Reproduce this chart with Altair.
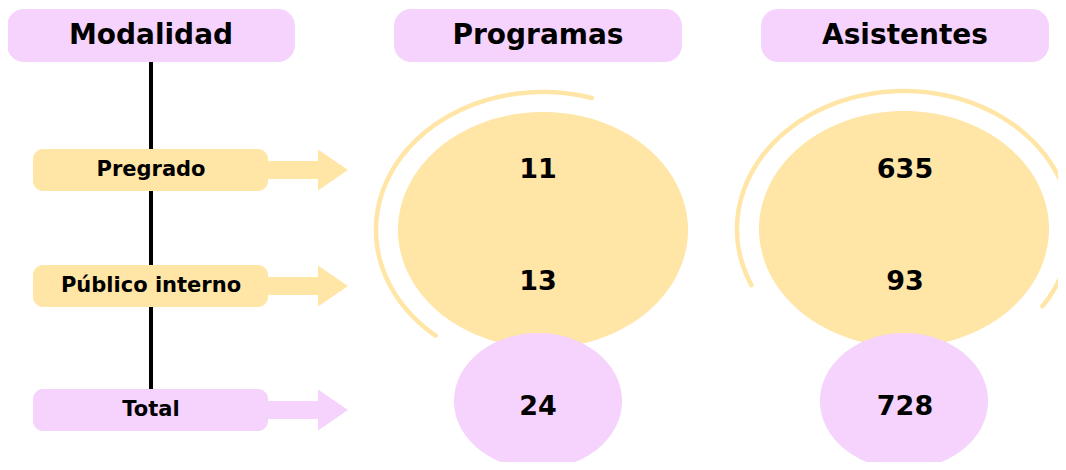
import altair as alt
import pandas as pd
import numpy as np

# ---- data ----
headers = ["Modalidad", "Programas", "Asistentes"]
modalidades = ["Pregrado", "Público interno", "Total"]
programas = [11, 13, 24]
asistentes = [635, 93, 728]

# ---- style / layout constants ----
YELLOW = "#FFE5A6"
PINK = "#F5D3FC"
FONT = "DejaVu Sans"
COL_X = [151, 538, 905]          # column centres
HEADER_Y = (9, 62)
HEADER_HALF = 144
ROW_Y = [170, 286, 410]          # row-label centres
ROW_BOX = (33, 268)
ROW_HALF = 21
VALUE_Y = [170, 282, 407]
BIG_CENTER = [(543, 230), (904, 229)]
BIG_R = (145, 118)
SMALL_CENTER = [(538, 401), (904, 401)]
SMALL_R = (84, 68)
ARC_R = (167, 138)
ARC_SPAN = [(-73, -230), (156, 394)]

xs = alt.Scale(domain=[8, 1058], nice=False, zero=False)
ys = alt.Scale(domain=[8, 462], nice=False, zero=False, reverse=True)


def X(f):
    return alt.X(f, type="quantitative", scale=xs, axis=None)


def Y(f):
    return alt.Y(f, type="quantitative", scale=ys, axis=None)


def sym_path(ratio, t0, t1, n, closed):
    t = np.radians(np.linspace(t0, t1, n))
    pts = [f"{np.cos(a):.4f},{ratio * np.sin(a):.4f}" for a in t]
    s = "M" + " L".join(pts)
    if closed:
        s += " Z"
    return s


# vertical line
line_df = pd.DataFrame({"x": [COL_X[0]], "y": [HEADER_Y[1]], "y2": [ROW_Y[2] - ROW_HALF]})
vline = alt.Chart(line_df).mark_rule(color="black", strokeWidth=4).encode(
    x=X("x"), y=Y("y"), y2="y2")

# row labels, boxes and arrows
row_df = pd.DataFrame({
    "label": modalidades,
    "x": [ROW_BOX[0]] * 3, "x2": [ROW_BOX[1]] * 3,
    "xc": [COL_X[0]] * 3,
    "ax": [308] * 3,
    "y": [r - ROW_HALF for r in ROW_Y], "y2": [r + ROW_HALF for r in ROW_Y],
    "yc": ROW_Y,
    "color": [YELLOW, YELLOW, PINK],
})
arrow_path = "M-1.05,-0.225 L0.25,-0.225 L0.25,-0.5125 L1,0 L0.25,0.5125 L0.25,0.225 L-1.05,0.225 Z"
arrows = alt.Chart(row_df).mark_point(shape=arrow_path, filled=True, opacity=1, size=6400, strokeWidth=0).encode(
    x=X("ax"), y=Y("yc"), color=alt.Color("color:N", scale=None))
row_boxes = alt.Chart(row_df).mark_rect(cornerRadius=10).encode(
    x=X("x"), x2="x2", y=Y("y"), y2="y2", color=alt.Color("color:N", scale=None))
row_text = alt.Chart(row_df).mark_text(font=FONT, fontWeight="bold", fontSize=21, baseline="middle",
                                       align="center", color="black").encode(
    x=X("xc"), y=Y("yc"), text="label:N")

# headers
head_df = pd.DataFrame({
    "label": headers,
    "xc": COL_X,
    "x": [c - HEADER_HALF for c in COL_X], "x2": [c + HEADER_HALF for c in COL_X],
    "y": [HEADER_Y[0]] * 3, "y2": [HEADER_Y[1]] * 3,
    "yc": [(HEADER_Y[0] + HEADER_Y[1]) / 2 + 0.5] * 3,
})
head_boxes = alt.Chart(head_df).mark_rect(cornerRadius=17, color=PINK).encode(
    x=X("x"), x2="x2", y=Y("y"), y2="y2")
head_text = alt.Chart(head_df).mark_text(font=FONT, fontWeight="bold", fontSize=28, baseline="middle",
                                         align="center", color="black").encode(
    x=X("xc"), y=Y("yc"), text="label:N")

# ellipses
big_df = pd.DataFrame({"x": [c[0] for c in BIG_CENTER], "y": [c[1] for c in BIG_CENTER]})
big = alt.Chart(big_df).mark_point(shape=sym_path(BIG_R[1] / BIG_R[0], 0, 360, 181, True), filled=True,
                                   opacity=1, color=YELLOW, size=(2 * BIG_R[0]) ** 2, strokeWidth=0).encode(
    x=X("x"), y=Y("y"))
small_df = pd.DataFrame({"x": [c[0] for c in SMALL_CENTER], "y": [c[1] for c in SMALL_CENTER]})
small = alt.Chart(small_df).mark_point(shape=sym_path(SMALL_R[1] / SMALL_R[0], 0, 360, 181, True), filled=True,
                                       opacity=1, color=PINK, size=(2 * SMALL_R[0]) ** 2, strokeWidth=0).encode(
    x=X("x"), y=Y("y"))

arcs = []
for (cx, cy), (t0, t1) in zip(BIG_CENTER, ARC_SPAN):
    adf = pd.DataFrame({"x": [cx], "y": [cy]})
    arcs.append(alt.Chart(adf).mark_point(shape=sym_path(ARC_R[1] / ARC_R[0], t0, t1, 160, False), filled=False,
                                           opacity=1, color=YELLOW, size=(2 * ARC_R[0]) ** 2,
                                           strokeWidth=4.5, strokeCap="round").encode(
        x=X("x"), y=Y("y")))

# values
val_df = pd.DataFrame({
    "value": [str(v) for v in programas] + [str(v) for v in asistentes],
    "x": [COL_X[1]] * 3 + [COL_X[2]] * 3,
    "y": VALUE_Y + VALUE_Y,
})
vals = alt.Chart(val_df).mark_text(font=FONT, fontWeight="bold", fontSize=27, baseline="middle",
                                   align="center", color="black").encode(
    x=X("x"), y=Y("y"), text="value:N")

chart = alt.layer(vline, arrows, row_boxes, row_text, head_boxes, head_text, *arcs, big, small, vals).properties(
    width=1050, height=454, padding=0, autosize=alt.AutoSizeParams(type="none"),
    background="white"
).configure_view(strokeWidth=0)

chart.save("out.html", embed_options={"renderer": "svg", "actions": False})
